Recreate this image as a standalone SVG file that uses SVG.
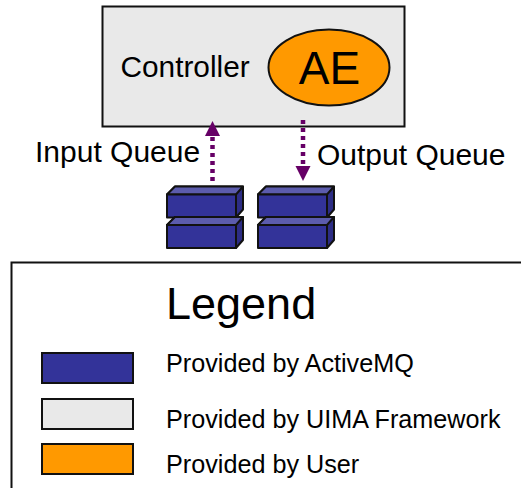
<svg xmlns="http://www.w3.org/2000/svg" width="521" height="488" viewBox="0 0 521 488">
<style>
text{font-family:"Liberation Sans",Arial,sans-serif;fill:#000}
.m{font-size:30px}
.s{font-size:25.200px}
.f{fill:#333399}
.st{stroke:#111;stroke-width:2;stroke-linejoin:round}
.d{stroke:#660066;stroke-width:4.5;stroke-dasharray:4 4;fill:none}
.h{fill:#660066}
</style>
<defs>
<g id="cube">
<path class="st" d="M0 8L8 0H76V23L69 31V8Z" fill="#2d2d85"/>
<path class="st" d="M0 8L8 0H76L69 8Z" fill="#5c5cad"/>
<rect class="st f" x="0" y="8" width="69" height="23"/>
</g>
</defs>
<rect width="521" height="488" fill="#fff"/>
<g id="controller">
<rect x="102.500" y="6.500" width="302" height="120" fill="#e9e9e9" stroke="#111" stroke-width="2"/>
<text class="m" x="120.500" y="77" style="font-size:29.800px">Controller</text>
</g>
<g id="ae">
<ellipse cx="329" cy="67.500" rx="60.500" ry="38" fill="#ff9900" stroke="#111" stroke-width="2"/>
<text x="329.500" y="84" text-anchor="middle" style="font-size:46px">AE</text>
</g>
<g id="input-queue">
<use href="#cube" x="167" y="186.500"/>
<use href="#cube" x="167" y="217"/>
</g>
<g id="output-queue">
<use href="#cube" x="258" y="186.500"/>
<use href="#cube" x="258" y="217"/>
</g>
<g id="connectors">
<path class="d" d="M212.500 181V136"/>
<path class="h" d="M212.500 121L205 136H220Z"/>
<path class="d" d="M303 120V166"/>
<path class="h" d="M303 181L295.500 166H310.500Z"/>
</g>
<g id="queue-labels">
<text class="m" x="35" y="162">Input Queue</text>
<text class="m" x="317" y="165">Output Queue</text>
</g>
<g id="legend">
<rect x="11.500" y="262.500" width="530" height="240" fill="#fff" stroke="#111" stroke-width="2"/>
<text x="166" y="319" style="font-size:45px">Legend</text>
<rect x="42" y="353" width="91" height="30" fill="#333399" stroke="#111" stroke-width="2"/>
<text class="s" x="166" y="372">Provided by ActiveMQ</text>
<rect x="42" y="399" width="91" height="30" fill="#e9e9e9" stroke="#111" stroke-width="2"/>
<text class="s" x="166" y="428">Provided by UIMA Framework</text>
<rect x="42" y="444" width="91" height="30" fill="#ff9900" stroke="#111" stroke-width="2"/>
<text class="s" x="166" y="473">Provided by User</text>
</g>
</svg>
